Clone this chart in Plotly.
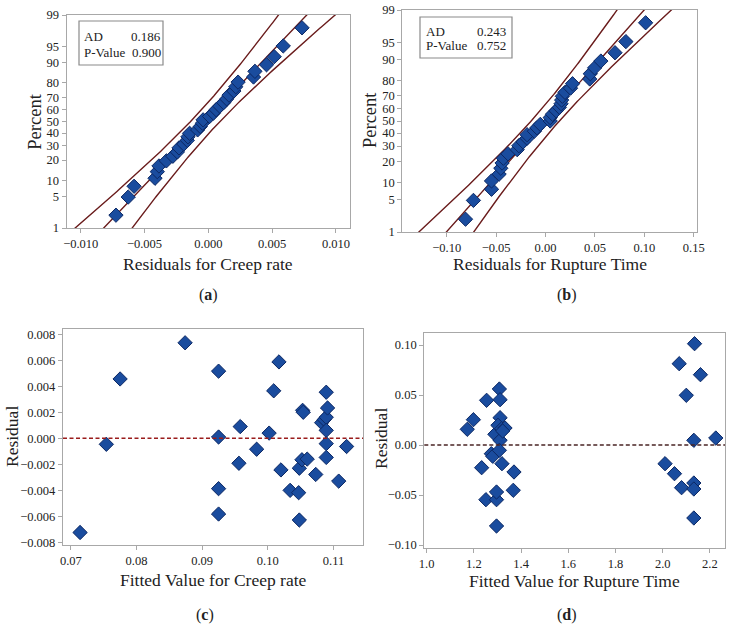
import numpy as np
import plotly.graph_objects as go
from statistics import NormalDist

# ---------------- data ----------------
creep_fitted = [0.0714, 0.0754, 0.0775, 0.0874, 0.0925, 0.0925, 0.0925, 0.0925,
                0.0958, 0.0956, 0.0983, 0.1002, 0.1009, 0.1017, 0.1020, 0.1034,
                0.1047, 0.1048, 0.1048, 0.1052, 0.1060, 0.1053, 0.1054, 0.1073,
                0.1082, 0.1086, 0.1089, 0.1089, 0.1091, 0.1089, 0.1089, 0.1089,
                0.1108, 0.1120]
creep_resid = [-0.00724, -0.00046, 0.00456, 0.00734, 0.00516, 0.00010, -0.00387, -0.00582,
               0.00090, -0.00192, -0.00084, 0.00040, 0.00365, 0.00587, -0.00243, -0.00400,
               -0.00418, -0.00628, -0.00230, -0.00165, -0.00160, 0.00215, 0.00200, -0.00278,
               0.00120, 0.00144, 0.00162, 0.00354, 0.00233, 0.00061, -0.00041, -0.00147,
               -0.00329, -0.00063]

rupture_fitted = [1.172, 1.198, 1.233, 1.254, 1.251, 1.274, 1.280, 1.296, 1.296, 1.296,
                  1.289, 1.308, 1.311, 1.311, 1.302, 1.311, 1.308, 1.319, 1.318, 1.332,
                  1.322, 1.370, 1.367, 2.010, 2.050, 2.080, 2.070, 2.135, 2.160, 2.100,
                  2.132, 2.132, 2.132, 2.132, 2.225]
rupture_resid = [0.0157, 0.0253, -0.0227, 0.0447, -0.0547, -0.0087, -0.0113, -0.0547, -0.0470, -0.0810,
                 0.0107, 0.0560, 0.0453, 0.0273, 0.0197, 0.0047, -0.0053, -0.0187, 0.0163, 0.0170,
                 0.0140, -0.0270, -0.0453, -0.0187, -0.0287, -0.0427, 0.0813, 0.1013, 0.0703, 0.0497,
                 0.0047, -0.0380, -0.0440, -0.0730, 0.0070]

pct_ticks = [1, 5, 10, 20, 30, 40, 50, 60, 70, 80, 90, 95, 99]
stats_a = ["AD", "P-Value"], ["0.186", "0.900"]
stats_b = ["AD", "P-Value"], ["0.243", "0.752"]

# ---------------- styling ----------------
W, H = 734, 628
FONT = "'Liberation Serif', 'Times New Roman', Times, serif"
MK = dict(symbol="diamond", size=11, color="#1a4c9e", line=dict(color="#0c2864", width=1))
LINE_C = "#6a1c1c"
nd = NormalDist()


def px_x(p):
    return p / W


def px_y(p):
    return 1 - p / H


def prob_data(res):
    r = np.sort(np.array(res))
    n = len(r)
    i = np.arange(1, n + 1)
    p = (i - 0.3) / (n + 0.4)
    z = np.array([nd.inv_cdf(v) for v in p])
    mu = r.mean()
    sig = r.std(ddof=0)
    zz = np.linspace(-3.0, 3.0, 200)
    mid = mu + sig * zz
    se = sig * np.sqrt((1 + zz ** 2 / 2) / n)
    return r, z, zz, mid, mid - 1.96 * se, mid + 1.96 * se


fig = go.Figure()

axis_common = dict(showline=True, mirror=True, linecolor="#a8a8a8", linewidth=1.3,
                   ticks="outside", tickcolor="#a8a8a8", ticklen=4, showgrid=False,
                   zeroline=False, automargin=False,
                   tickfont=dict(family=FONT, size=12.5, color="#222"))

# panel a / b : probability plots
for k, (res, xa, ya) in enumerate([(creep_resid, "x", "y"), (rupture_resid, "x2", "y2")]):
    r, z, zz, mid, lo, hi = prob_data(res)
    for line in (lo, mid, hi):
        fig.add_trace(go.Scatter(x=line, y=zz, mode="lines", xaxis=xa, yaxis=ya,
                                 line=dict(color=LINE_C, width=1.4), showlegend=False,
                                 hoverinfo="skip"))
    fig.add_trace(go.Scatter(x=r, y=z, mode="markers", marker=MK, xaxis=xa, yaxis=ya,
                             showlegend=False, cliponaxis=False))

zt = [nd.inv_cdf(p / 100) for p in pct_ticks]
zr = [nd.inv_cdf(0.01), nd.inv_cdf(0.99)]

fig.add_trace(go.Scatter(x=creep_fitted, y=creep_resid, mode="markers", marker=MK,
                         xaxis="x3", yaxis="y3", showlegend=False))
fig.add_trace(go.Scatter(x=rupture_fitted, y=rupture_resid, mode="markers", marker=MK,
                         xaxis="x4", yaxis="y4", showlegend=False))

fig.update_layout(
    template="none",
    width=W, height=H, margin=dict(l=0, r=0, t=0, b=0, autoexpand=False),
    paper_bgcolor="white", plot_bgcolor="white", showlegend=False,
    font=dict(family=FONT, color="#222"),
    xaxis=dict(axis_common, domain=[px_x(66.7), px_x(350)], range=[-0.0111, 0.0111],
               tickvals=[-0.010, -0.005, 0.0, 0.005, 0.010], tickformat=".3f", anchor="y"),
    yaxis=dict(axis_common, domain=[px_y(228), px_y(15)], range=zr, tickvals=zt,
               ticktext=[str(p) for p in pct_ticks], anchor="x"),
    xaxis2=dict(axis_common, domain=[px_x(402.3), px_x(696.7)], range=[-0.145, 0.153],
                tickvals=[-0.10, -0.05, 0.0, 0.05, 0.10, 0.15], tickformat=".2f", anchor="y2"),
    yaxis2=dict(axis_common, domain=[px_y(232), px_y(10)], range=zr, tickvals=zt,
                ticktext=[str(p) for p in pct_ticks], anchor="x2"),
    xaxis3=dict(axis_common, domain=[px_x(63), px_x(363)], range=[0.0688, 0.1145],
                tickvals=[0.07, 0.08, 0.09, 0.10, 0.11], tickformat=".2f", anchor="y3"),
    yaxis3=dict(axis_common, domain=[px_y(545), px_y(329)], range=[-0.0082, 0.0084],
                tickvals=[-0.008, -0.006, -0.004, -0.002, 0, 0.002, 0.004, 0.006, 0.008],
                tickformat=".3f", anchor="x3"),
    xaxis4=dict(axis_common, domain=[px_x(424.3), px_x(725)], range=[0.99, 2.264],
                tickvals=[1.0, 1.2, 1.4, 1.6, 1.8, 2.0, 2.2], tickformat=".1f", anchor="y4"),
    yaxis4=dict(axis_common, domain=[px_y(547.7), px_y(332.7)], range=[-0.1027, 0.1123],
                tickvals=[-0.10, -0.05, 0, 0.05, 0.10], tickformat=".2f", anchor="x4"),
)

# zero reference lines
fig.add_shape(type="line", xref="x3 domain", yref="y3", x0=0, x1=1, y0=0, y1=0,
              line=dict(color="#9a1c1c", width=1.6, dash="4px,2.5px"))
fig.add_shape(type="line", xref="x4 domain", yref="y4", x0=0, x1=1, y0=0, y1=0,
              line=dict(color="#4a2424", width=1.6, dash="4px,2.5px"))

# stats boxes
for (x0, x1, y0, y1, lx, rx, r1, r2, st) in [
        (79, 163, 21, 65, 83, 161.5, 36.7, 52.3, stats_a),
        (420, 512, 17, 58, 424.5, 506.5, 31.7, 46.0, stats_b)]:
    fig.add_shape(type="rect", xref="paper", yref="paper", x0=px_x(x0), x1=px_x(x1),
                  y0=px_y(y1), y1=px_y(y0), line=dict(color="#8a8a8a", width=1.2),
                  fillcolor="white", layer="above")
    for lab, val, ry in zip(st[0], st[1], [r1, r2]):
        fig.add_annotation(x=px_x(lx), y=px_y(ry), xref="paper", yref="paper", text=lab,
                           showarrow=False, xanchor="left", yanchor="middle", borderpad=0,
                           font=dict(family=FONT, size=13, color="#222"))
        fig.add_annotation(x=px_x(rx), y=px_y(ry), xref="paper", yref="paper", text=val,
                           showarrow=False, xanchor="right", yanchor="middle", borderpad=0,
                           font=dict(family=FONT, size=13, color="#222"))

# axis titles and panel labels
texts = [
    ("Percent", 35, 121.7, -90, 18.5),
    ("Percent", 370, 120, -90, 18.5),
    ("Residuals for Creep rate", 208, 263.5, 0, 17.5),
    ("Residuals for Rupture Time", 550, 263.5, 0, 17.5),
    ("Residual", 12, 437, -90, 17.5),
    ("Residual", 381, 438, -90, 17.5),
    ("Fitted Value for Creep rate", 213, 580, 0, 17.5),
    ("Fitted Value for Rupture Time", 574.5, 580.5, 0, 17.5),
    ("(<b>a</b>)", 208, 295, 0, 16),
    ("(<b>b</b>)", 566.7, 295, 0, 16),
    ("(<b>c</b>)", 205, 615, 0, 16),
    ("(<b>d</b>)", 567, 615, 0, 16),
]
for t, x, y, ang, sz in texts:
    fig.add_annotation(x=px_x(x), y=px_y(y), xref="paper", yref="paper", text=t,
                       showarrow=False, xanchor="center", yanchor="middle", textangle=ang,
                       font=dict(family=FONT, size=sz, color="#222"))

fig.write_html("out.html", config={"displayModeBar": False},
               post_script="document.body.style.margin='0';document.body.style.padding='0';"
                           "document.body.style.overflow='hidden';")
